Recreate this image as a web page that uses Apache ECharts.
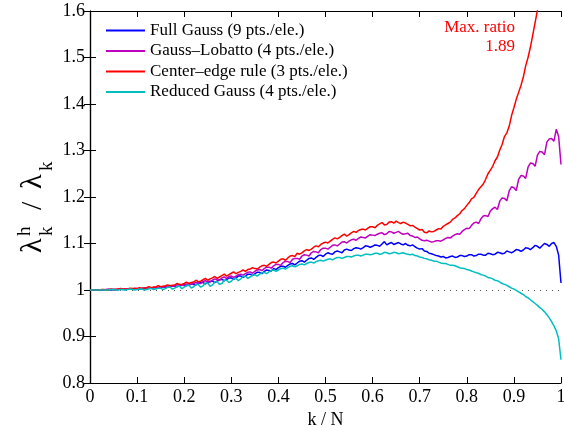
<!DOCTYPE html>
<html>
<head>
<meta charset="utf-8">
<script src="https://cdn.jsdelivr.net/npm/echarts@6/dist/echarts.min.js"></script>
<style>
  html, body { margin: 0; padding: 0; background: #fff; }
  #chart { width: 564px; height: 427px; }
</style>
</head>
<body>
<div id="chart"></div>
<script>
// k / N sample grid: 0 to 1 in steps of 0.005
const kN = [];
for (let i = 0; i <= 200; i++) kN.push(Number((i * 0.005).toFixed(3)));

// Eigenvalue ratio lambda^h_k / lambda_k for each quadrature rule (one row per 0.1 of k/N)
const fullGauss = [
  1.000,1.000, 1.000,1.000, 1.000,1.000, 1.000,1.001, 1.001,1.000, 1.001,1.001, 1.001,1.002, 1.001,1.001, 1.002,1.002, 1.002,1.003,
  1.002,1.002, 1.003,1.004, 1.003,1.003, 1.004,1.005, 1.005,1.004, 1.005,1.007, 1.006,1.006, 1.007,1.009, 1.008,1.007, 1.009,1.011,
  1.010,1.009, 1.011,1.013, 1.012,1.011, 1.014,1.016, 1.016,1.013, 1.016,1.019, 1.019,1.016, 1.019,1.022, 1.023,1.020, 1.022,1.026,
  1.026,1.023, 1.026,1.030, 1.030,1.027, 1.030,1.034, 1.034,1.031, 1.035,1.038, 1.038,1.035, 1.040,1.043, 1.042,1.041, 1.046,1.044,
  1.048,1.051, 1.051,1.049, 1.053,1.056, 1.057,1.054, 1.058,1.062, 1.063,1.060, 1.064,1.068, 1.069,1.066, 1.070,1.074, 1.075,1.072,
  1.077,1.080, 1.078,1.077, 1.082,1.084, 1.082,1.080, 1.086,1.088, 1.086,1.085, 1.089,1.091, 1.090,1.088, 1.091,1.095, 1.094,1.092,
  1.094,1.097, 1.096,1.094, 1.099,1.104, 1.097,1.100, 1.102,1.098, 1.100,1.102, 1.099,1.097, 1.100,1.096, 1.095,1.097, 1.093,1.090,
  1.088,1.089, 1.084,1.083, 1.079,1.078, 1.076,1.074, 1.073,1.071, 1.072,1.069, 1.070,1.072, 1.073,1.070, 1.071,1.074, 1.074,1.072,
  1.073,1.076, 1.076,1.073, 1.074,1.077, 1.077,1.075, 1.075,1.079, 1.078,1.076, 1.077,1.081, 1.080,1.078, 1.079,1.084, 1.082,1.080,
  1.083,1.087, 1.086,1.083, 1.086,1.091, 1.090,1.087, 1.091,1.096, 1.094,1.090, 1.095,1.100, 1.098,1.094, 1.100,1.102, 1.094,1.075,
  1.015
];

const gaussLobatto = [
  1.000,1.000, 1.000,1.000, 1.000,1.000, 1.000,1.001, 1.001,1.001, 1.001,1.001, 1.001,1.002, 1.002,1.002, 1.002,1.002, 1.002,1.003,
  1.003,1.003, 1.003,1.004, 1.004,1.004, 1.004,1.006, 1.006,1.005, 1.006,1.007, 1.007,1.008, 1.008,1.008, 1.009,1.011, 1.010,1.010,
  1.011,1.013, 1.012,1.012, 1.014,1.016, 1.015,1.014, 1.018,1.020, 1.018,1.017, 1.021,1.024, 1.022,1.021, 1.026,1.028, 1.025,1.029,
  1.030,1.027, 1.030,1.033, 1.034,1.032, 1.035,1.038, 1.039,1.036, 1.040,1.043, 1.044,1.042, 1.046,1.049, 1.049,1.047, 1.052,1.055,
  1.055,1.053, 1.059,1.062, 1.061,1.059, 1.066,1.068, 1.068,1.066, 1.073,1.076, 1.075,1.073, 1.080,1.083, 1.082,1.080, 1.087,1.090,
  1.090,1.088, 1.092,1.096, 1.097,1.095, 1.099,1.103, 1.104,1.101, 1.105,1.108, 1.109,1.107, 1.111,1.114, 1.113,1.112, 1.116,1.119,
  1.118,1.117, 1.120,1.122, 1.123,1.119, 1.121,1.126, 1.125,1.122, 1.124,1.126, 1.122,1.120, 1.121,1.122, 1.117,1.116, 1.113,1.114,
  1.110,1.107, 1.106,1.107, 1.105,1.103, 1.104,1.106, 1.106,1.105, 1.108,1.111, 1.113,1.112, 1.116,1.119, 1.121,1.120, 1.126,1.130,
  1.133,1.132, 1.139,1.144, 1.146,1.143, 1.153,1.159, 1.160,1.158, 1.170,1.175, 1.178,1.173, 1.191,1.198, 1.197,1.192, 1.213,1.222,
  1.220,1.214, 1.238,1.246, 1.245,1.240, 1.264,1.273, 1.272,1.266, 1.290,1.298, 1.297,1.291, 1.318,1.325, 1.326,1.320, 1.346,1.330,
  1.270
];

const centerEdge = [
  1.000,1.000, 1.000,1.000, 1.000,1.001, 1.001,1.000, 1.001,1.002, 1.001,1.001, 1.002,1.003, 1.002,1.002, 1.002,1.004, 1.003,1.003,
  1.003,1.005, 1.004,1.004, 1.005,1.007, 1.005,1.006, 1.007,1.009, 1.007,1.008, 1.009,1.011, 1.009,1.010, 1.011,1.014, 1.012,1.012,
  1.014,1.017, 1.014,1.016, 1.017,1.021, 1.018,1.019, 1.022,1.025, 1.021,1.024, 1.026,1.029, 1.025,1.028, 1.031,1.034, 1.030,1.033,
  1.036,1.039, 1.035,1.038, 1.040,1.043, 1.040,1.044, 1.045,1.048, 1.046,1.045, 1.049,1.052, 1.053,1.051, 1.055,1.059, 1.060,1.058,
  1.062,1.066, 1.067,1.064, 1.069,1.073, 1.074,1.072, 1.079,1.077, 1.080,1.084, 1.087,1.085, 1.088,1.092, 1.095,1.093, 1.098,1.101,
  1.103,1.101, 1.105,1.109, 1.112,1.110, 1.113,1.117, 1.120,1.116, 1.119,1.123, 1.126,1.124, 1.128,1.130, 1.131,1.129, 1.133,1.136,
  1.136,1.134, 1.139,1.142, 1.145,1.140, 1.141,1.146, 1.147,1.144, 1.148,1.145, 1.143,1.146, 1.144,1.141, 1.138,1.139, 1.135,1.132,
  1.129,1.130, 1.124,1.123, 1.127,1.125, 1.126,1.129, 1.132,1.131, 1.137,1.140, 1.143,1.146, 1.152,1.155, 1.160,1.164, 1.171,1.175,
  1.182,1.188, 1.196,1.199, 1.208,1.216, 1.222,1.228, 1.238,1.250, 1.258,1.266, 1.278,1.286, 1.301,1.313, 1.330,1.338, 1.352,1.375,
  1.392,1.410, 1.425,1.440, 1.458,1.482, 1.500,1.522, 1.548,1.575, 1.602,1.626, 1.650,1.678, 1.705,1.736, 1.768,1.800, 1.835,1.865,
  1.890
];

const reducedGauss = [
  1.000,1.000, 1.000,1.000, 1.000,1.000, 1.000,1.000, 1.000,1.001, 1.001,1.000, 1.000,1.001, 1.001,1.000, 1.001,1.002, 1.001,1.000,
  1.001,1.002, 1.002,1.000, 1.001,1.003, 1.003,1.001, 1.002,1.004, 1.004,1.001, 1.003,1.006, 1.006,1.002, 1.004,1.008, 1.008,1.003,
  1.006,1.010, 1.010,1.004, 1.007,1.012, 1.012,1.006, 1.009,1.015, 1.015,1.008, 1.011,1.017, 1.018,1.012, 1.014,1.021, 1.021,1.016,
  1.019,1.024, 1.025,1.020, 1.024,1.029, 1.030,1.025, 1.028,1.032, 1.033,1.030, 1.034,1.037, 1.038,1.035, 1.039,1.042, 1.043,1.040,
  1.043,1.046, 1.047,1.045, 1.048,1.051, 1.052,1.050, 1.052,1.055, 1.056,1.054, 1.057,1.059, 1.060,1.058, 1.061,1.063, 1.064,1.062,
  1.064,1.066, 1.067,1.065, 1.068,1.070, 1.070,1.068, 1.070,1.072, 1.072,1.071, 1.073,1.075, 1.075,1.073, 1.075,1.077, 1.077,1.076,
  1.077,1.079, 1.079,1.077, 1.078,1.081, 1.080,1.078, 1.079,1.081, 1.080,1.078, 1.079,1.080, 1.078,1.077, 1.076,1.077, 1.074,1.073,
  1.071,1.070, 1.068,1.067, 1.065,1.064, 1.062,1.062, 1.060,1.058, 1.057,1.057, 1.055,1.053, 1.053,1.052, 1.050,1.048, 1.047,1.046,
  1.044,1.043, 1.041,1.039, 1.037,1.036, 1.033,1.032, 1.030,1.027, 1.026,1.024, 1.021,1.020, 1.017,1.014, 1.012,1.010, 1.007,1.004,
  1.002,0.999, 0.996,0.993, 0.990,0.986, 0.983,0.979, 0.975,0.971, 0.967,0.962, 0.958,0.953, 0.947,0.940, 0.932,0.923, 0.912,0.895,
  0.850
];

const seriesNames = [
  'Full Gauss (9 pts./ele.)',
  'Gauss\u2013Lobatto (4 pts./ele.)',
  'Center\u2013edge rule (3 pts./ele.)',
  'Reduced Gauss (4 pts./ele.)'
];
const seriesValues = [fullGauss, gaussLobatto, centerEdge, reducedGauss];
const seriesColors = ['#0000ff', '#bf00bf', '#ff0000', '#00bfbf'];

const xTicks = [0, 1, 0.1];      // min, max, step
const yTicks = [0.8, 1.6, 0.1];
const maxRatio = '1.89';

const serif = 'Liberation Serif';
const fmt = v => String(+v.toFixed(1));

const chart = echarts.init(document.getElementById('chart'));

const tickStyle = { show: true, inside: true, length: 6, lineStyle: { color: '#000', width: 1 } };
const lineStyle = { show: true, lineStyle: { color: '#000', width: 1.2 } };

const series = seriesNames.map((name, i) => ({
  name: name,
  type: 'line',
  data: kN.map((x, j) => [x, seriesValues[i][j]]),
  showSymbol: false,
  symbol: 'none',
  clip: true,
  lineStyle: { color: seriesColors[i], width: 1.5 },
  itemStyle: { color: seriesColors[i] },
  animation: false,
  z: 3 + i
}));

// dotted reference at ratio 1
series[0].markLine = {
  silent: true,
  symbol: 'none',
  label: { show: false },
  lineStyle: { color: '#555', type: [1, 5], width: 1 },
  data: [[{ coord: [0, 1] }, { coord: [1, 1] }]],
  animation: false
};

// rotated y-axis title: lambda^h_k / lambda_k
const subFont = '19px "Liberation Serif"';
const bigFont = '30px "Liberation Serif"';
const titlePart = (text, x, y, font) => ({
  type: 'text', x: x, y: y,
  style: { text: text, font: font, fill: '#000', verticalAlign: 'middle', align: 'left' }
});

chart.setOption({
  animation: false,
  backgroundColor: '#fff',
  grid: { left: 90, right: 3, top: 11, bottom: 44, containLabel: false, outerBoundsMode: 'none' },
  xAxis: [
    {
      type: 'value', min: xTicks[0], max: xTicks[1], interval: xTicks[2],
      position: 'bottom',
      axisLine: lineStyle, axisTick: tickStyle, splitLine: { show: false },
      axisLabel: { formatter: fmt, fontFamily: serif, fontSize: 18, color: '#000', margin: 5 },
      name: 'k / N', nameLocation: 'middle', nameGap: 20,
      nameTextStyle: { fontFamily: serif, fontSize: 18, color: '#000' }
    },
    {
      type: 'value', min: xTicks[0], max: xTicks[1], interval: xTicks[2],
      position: 'top',
      axisLine: lineStyle, axisTick: tickStyle, splitLine: { show: false },
      axisLabel: { show: false }
    }
  ],
  yAxis: [
    {
      type: 'value', min: yTicks[0], max: yTicks[1], interval: yTicks[2],
      position: 'left',
      axisLine: lineStyle, axisTick: tickStyle, splitLine: { show: false },
      axisLabel: { formatter: fmt, fontFamily: serif, fontSize: 18, color: '#000', margin: 5 }
    },
    {
      type: 'value', min: yTicks[0], max: yTicks[1], interval: yTicks[2],
      position: 'right',
      axisLine: lineStyle, axisTick: tickStyle, splitLine: { show: false },
      axisLabel: { show: false }
    }
  ],
  legend: {
    orient: 'vertical',
    left: 106, top: 22,
    padding: 0,
    itemWidth: 39, itemHeight: 2,
    itemGap: 3.5,
    icon: 'rect',
    textStyle: { fontFamily: serif, fontSize: 17, color: '#000' },
    data: seriesNames
  },
  graphic: [
    {
      type: 'text',
      x: 515, y: 18.5,
      style: {
        text: 'Max. ratio\n' + maxRatio,
        align: 'right', verticalAlign: 'top',
        fill: '#ff0000', font: '17px "Liberation Serif"', lineHeight: 19
      }
    },
    {
      type: 'group',
      x: 33, y: 253,
      rotation: Math.PI / 2,
      children: [
        titlePart('\u03bb', 0, 0, bigFont),
        titlePart('h', 17, -8, subFont),
        titlePart('k', 17, 14, subFont),
        titlePart('/', 43, 0, bigFont),
        titlePart('\u03bb', 64, 0, bigFont),
        titlePart('k', 82, 14, subFont)
      ]
    }
  ],
  series: series
});
</script>
</body>
</html>
